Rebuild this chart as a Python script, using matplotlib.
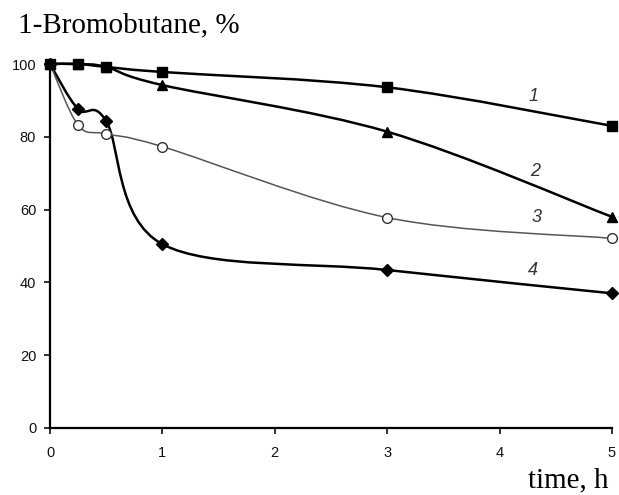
import numpy as np
import matplotlib
matplotlib.use("Agg")
import matplotlib.pyplot as plt
from matplotlib.path import Path
from matplotlib.patches import PathPatch

# data
time_h = [0, 0.25, 0.5, 1, 3, 5]
curve1 = [100, 100, 99.2, 97.8, 93.6, 83.0]
curve2 = [100, 100, 99.2, 94.2, 81.4, 58.0]
curve3 = [100, 83.2, 80.8, 77.3, 57.8, 52.1]
curve4 = [100, 87.6, 84.3, 50.5, 43.4, 37.0]
curve_labels = ["1", "2", "3", "4"]
label_pos = [(4.3, 91.2), (4.32, 70.6), (4.33, 57.7), (4.3, 43.4)]


def smooth_path(x, y):
    # Excel-like smoothed line (Catmull-Rom as Bezier segments)
    pts = np.column_stack([x, y]).astype(float)
    n = len(pts)
    verts = [pts[0]]
    codes = [Path.MOVETO]
    for i in range(n - 1):
        p0 = pts[i - 1] if i > 0 else pts[i]
        p1 = pts[i]
        p2 = pts[i + 1]
        p3 = pts[i + 2] if i + 2 < n else pts[i + 1]
        c1 = p1 + (p2 - p0) / 6.0
        c2 = p2 - (p3 - p1) / 6.0
        verts += [c1, c2, p2]
        codes += [Path.CURVE4] * 3
    return Path(verts, codes)


fig = plt.figure(figsize=(6.19, 4.95), dpi=100)
ax = fig.add_axes([0.0808, 0.1354, 0.9079, 0.7353])

styles = [
    (curve4, "D", "black", "black", 1.8, 6),
    (curve3, "o", "white", "#555555", 1.1, 7),
    (curve2, "^", "black", "black", 1.8, 7),
    (curve1, "s", "black", "black", 1.8, 6.5),
]
for vals, mk, fc, lc, lw, ms in styles:
    ax.add_patch(PathPatch(smooth_path(time_h, vals), fill=False,
                           edgecolor=lc, lw=lw, zorder=2, clip_on=False))
    ax.plot(time_h, vals, ls="none", marker=mk, ms=ms, mfc=fc,
            mec="black" if fc == "black" else "#333333", mew=1.0,
            zorder=3, clip_on=False)

for lab, (lx, ly) in zip(curve_labels, label_pos):
    ax.text(lx, ly, lab, fontsize=13, style="italic", family="Liberation Sans",
            color="#333333", ha="center", va="center")

ax.set_xlim(0, 5)
ax.set_ylim(0, 100)
ax.set_xticks([0, 1, 2, 3, 4, 5])
ax.set_yticks([0, 20, 40, 60, 80, 100])
for s in ["top", "right"]:
    ax.spines[s].set_visible(False)
for s in ["left", "bottom"]:
    ax.spines[s].set_linewidth(1.6)
ax.tick_params(direction="out", length=4, width=1.2, labelsize=10.5, colors="#111111")
ax.tick_params(axis="x", pad=9)
ax.tick_params(axis="y", pad=6)
for t in ax.get_xticklabels() + ax.get_yticklabels():
    t.set_family("Liberation Sans")

fig.text(0.029, 0.949, "1-Bromobutane, %", family="Liberation Serif",
         fontsize=21, ha="left", va="center")
fig.text(0.983, 0.030, "time, h", family="Liberation Serif",
         fontsize=21, ha="right", va="center")

fig.savefig("out.png", dpi=100)
